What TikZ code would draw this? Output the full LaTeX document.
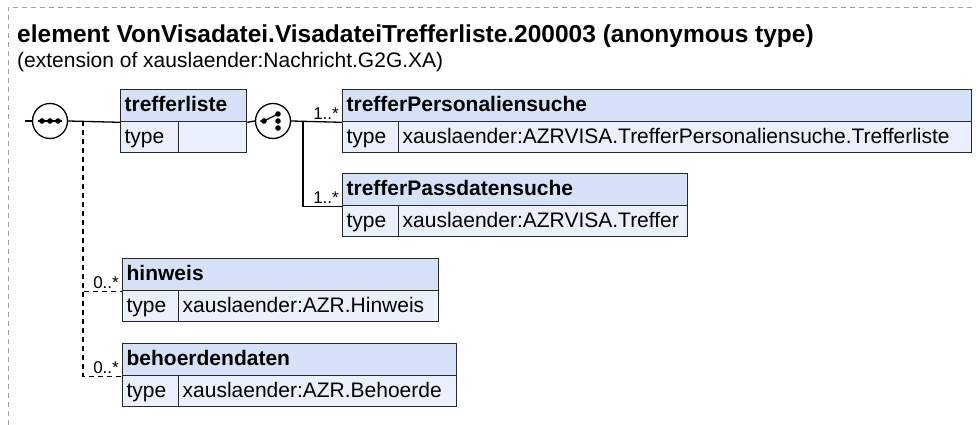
\documentclass[tikz,border=0pt]{standalone}
\usepackage{fontspec}
\setmainfont{Liberation Sans}
\definecolor{hdrfill}{RGB}{214,226,247}
\definecolor{rowfill}{RGB}{234,240,252}
\definecolor{boxline}{RGB}{40,40,40}
\definecolor{frameline}{RGB}{160,160,160}
\tikzset{
  hdr/.style={draw=boxline, fill=hdrfill, line width=1.3pt, anchor=north west,
    minimum height=32pt, inner xsep=4pt, inner ysep=0pt, align=left,
    text height=16pt, text depth=4pt,
    font=\fontsize{21}{21}\selectfont\bfseries},
  rowcell/.style={draw=boxline, fill=rowfill, line width=1.3pt, anchor=north west,
    minimum height=31pt, inner xsep=4pt, inner ysep=0pt, align=left,
    text height=16pt, text depth=4pt,
    font=\fontsize{21}{21}\selectfont},
  conn/.style={line width=1.3pt, black},
  dconn/.style={line width=1.3pt, black, dash pattern=on 5pt off 4pt},
  mult/.style={font=\fontsize{17}{17}\selectfont, inner sep=0pt, anchor=base east},
  grp/.style={circle, draw=black, fill=white, line width=1.3pt, minimum size=35pt, inner sep=0pt}
}
\newcommand\elbox[7]{%
  \pgfmathsetmacro\wa{#5-#2-8}%
  \pgfmathsetmacro\wb{#4-#2-8}%
  \pgfmathsetmacro\wc{#5-#4-8}%
  \node[hdr, text width=\wa pt] (#1) at (#2,#3) {#6};
  \node[rowcell, text width=\wb pt] (#1t) at (#2,#3+32) {type};
  \node[rowcell, text width=\wc pt] (#1v) at (#4,#3+32) {#7};
}
\begin{document}
\begin{tikzpicture}[x=1pt,y=-1pt]
\useasboundingbox (0,0) rectangle (980,425);
% frame
\coordinate (fa) at (8,7);
\coordinate (fb) at (976,7);
\coordinate (fc) at (8,425);
\draw[frameline, line width=0.8pt, dash pattern=on 5pt off 4pt] (fc) -- (fa) -- (fb);
% titles
\node[anchor=base west, inner sep=0pt, font=\fontsize{24.5}{24.5}\selectfont\bfseries] (title) at (17,43)
  {element VonVisadatei.VisadateiTrefferliste.200003 (anonymous type)};
\node[anchor=base west, inner sep=0pt, font=\fontsize{21}{21}\selectfont] (sub) at (17,68)
  {(extension of xauslaender:Nachricht.G2G.XA)};
% boxes
\elbox{tl}{120}{89}{178}{246}{trefferliste}{}
\elbox{tp}{342}{89}{398}{971}{trefferPersonaliensuche}{xauslaender:AZRVISA.TrefferPersonaliensuche.Trefferliste}
\elbox{tpa}{342}{173}{398}{687}{trefferPassdatensuche}{xauslaender:AZRVISA.Treffer}
\elbox{hw}{122}{258}{178}{438}{hinweis}{xauslaender:AZR.Hinweis}
\elbox{bd}{122}{343}{178}{456}{behoerdendaten}{xauslaender:AZR.Behoerde}
% sequence compositor
\coordinate (in) at (25,121);
\node[grp] (seq) at (50,121) {};
\draw[conn] (in) -- (seq.west);
\draw[conn] (seq.east) -- (tl.south west);
\draw[line width=1.2pt] ([xshift=-12pt]seq.center) -- ([xshift=12pt]seq.center);
\foreach \dx in {-8,0,8} \fill ([xshift=\dx pt]seq.center) circle (2.8pt);
% choice compositor
\node[grp] (ch) at (273,121) {};
\draw[conn] (tl.south east) -- (ch.west);
\draw[conn] (ch.east) -- (tp.south west);
\draw[line width=1.2pt] ([xshift=-13pt]ch.center) -- ([xshift=-9pt]ch.center) -- ([xshift=5pt,yshift=7pt]ch.center);
\fill ([xshift=-9pt]ch.center) circle (2.8pt);
\foreach \dy in {7,0,-7} \fill ([xshift=5pt,yshift=\dy pt]ch.center) circle (2.8pt);
\coordinate (br) at (303,121);
\draw[conn] (br) |- (tpa.south west);
% sequence dashed children
\coordinate (sb) at (83,121);
\draw[dconn] (sb) |- (hw.south west);
\draw[dconn] (sb) |- (bd.south west);
% multiplicities
\node[mult] (m1) at ([xshift=-3pt,yshift=3pt]tp.south west) {1..*};
\node[mult] (m2) at ([xshift=-3pt,yshift=3pt]tpa.south west) {1..*};
\node[mult] (m3) at ([xshift=-3pt,yshift=3pt]hw.south west) {0..*};
\node[mult] (m4) at ([xshift=-3pt,yshift=3pt]bd.south west) {0..*};
\end{tikzpicture}
\end{document}
